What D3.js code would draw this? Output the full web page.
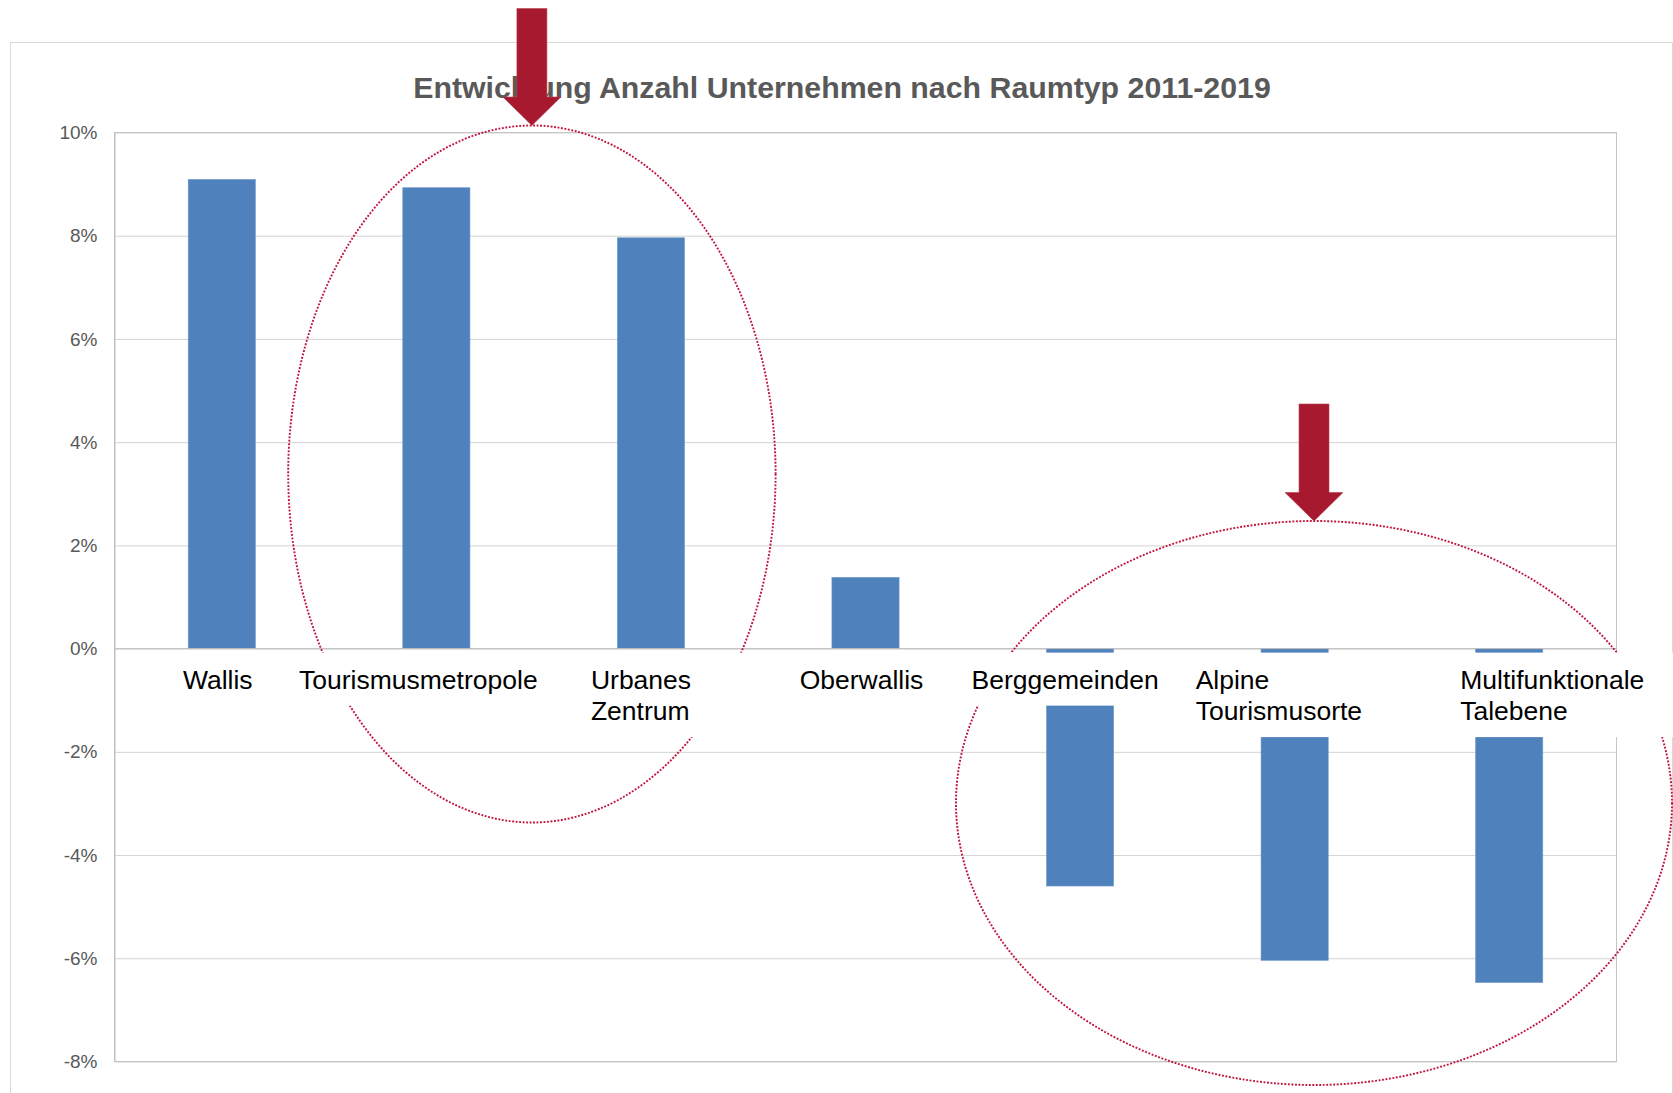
<!DOCTYPE html>
<html>
<head>
<meta charset="utf-8">
<title>Entwicklung Anzahl Unternehmen</title>
<script src="https://d3js.org/d3.v7.min.js"></script>
<style>
body { margin: 0; background: #fff; }
svg text { font-family: "Liberation Sans", Arial, sans-serif; }
</style>
</head>
<body>
<div id="chart"></div>
<script>

// data
var categories = ["Wallis", "Tourismusmetropole", "Urbanes Zentrum", "Oberwallis",
  "Berggemeinden", "Alpine Tourismusorte", "Multifunktionale Talebene"];
var values = [9.09, 8.93, 7.96, 1.38, -4.6, -6.04, -6.47];
var yTicks = [10, 8, 6, 4, 2, 0, -2, -4, -6, -8];
var labelLines = [["Wallis"], ["Tourismusmetropole"], ["Urbanes", "Zentrum"], ["Oberwallis"],
  ["Berggemeinden"], ["Alpine", "Tourismusorte"], ["Multifunktionale", "Talebene"]];
var title = "Entwicklung Anzahl Unternehmen nach Raumtyp 2011-2019";

// label placement: anchor + shift from band centre
var labelAnchor = ["middle", "middle", "start", "middle", "middle", "start", "start"];
var labelShift = [-4, -18, -60, -4, -15, -99, -49];

var width = 1673, height = 1093;
var plotLeft = 114.5, plotRight = 1616.5, plotTop = 132.5, plotBottom = 1061.5;

var svg = d3.select("#chart").append("svg")
  .attr("width", width).attr("height", height);

// outer chart frame
svg.append("rect").attr("x", 10.5).attr("y", 42.5)
  .attr("width", 1662).attr("height", 1100)
  .attr("fill", "#fff").attr("stroke", "#d9d9d9");

var x = d3.scaleBand().domain(categories).range([plotLeft, plotRight])
  .paddingInner(0.687).paddingOuter(0.3435);
var y = d3.scaleLinear().domain([-8, 10]).range([plotBottom, plotTop]);

// gridlines
svg.append("g").attr("transform", "translate(" + plotLeft + ",0)")
  .call(d3.axisLeft(y).tickValues(yTicks).tickSize(-(plotRight - plotLeft)).tickFormat(""))
  .call(function(g) {
    g.select(".domain").remove();
    g.selectAll("line").attr("stroke", "#d4d4d4");
  });

// plot border
svg.append("rect").attr("x", plotLeft).attr("y", plotTop)
  .attr("width", plotRight - plotLeft).attr("height", plotBottom - plotTop)
  .attr("fill", "none").attr("stroke", "#c4c4c4");

// y axis labels
svg.append("g").attr("transform", "translate(" + plotLeft + ",0)")
  .call(d3.axisLeft(y).tickValues(yTicks).tickSize(0).tickPadding(17)
    .tickFormat(function(d) { return d + "%"; }))
  .call(function(g) {
    g.select(".domain").attr("stroke", "#bfbfbf");
    g.selectAll("text").attr("fill", "#595959").attr("font-size", 19)
      .style("font-family", "'Liberation Sans', Arial, sans-serif");
  });

// bars
svg.selectAll(".bar").data(values).enter().append("rect")
  .attr("class", "bar")
  .attr("x", function(d, i) { return x(categories[i]); })
  .attr("width", x.bandwidth())
  .attr("y", function(d) { return y(Math.max(0, d)); })
  .attr("height", function(d) { return Math.abs(y(d) - y(0)); })
  .attr("fill", "#4f81bd").attr("stroke", "#6f97c8").attr("stroke-width", 0.6);

// zero line
svg.append("line").attr("x1", plotLeft).attr("x2", plotRight)
  .attr("y1", y(0)).attr("y2", y(0)).attr("stroke", "#bfbfbf");

// dotted ellipses
var ellipses = [
  { cx: 531.9, cy: 474, rx: 243.7, ry: 348.5 },
  { cx: 1314, cy: 803, rx: 358, ry: 282 }
];
svg.selectAll(".ring").data(ellipses).enter().append("ellipse")
  .attr("class", "ring")
  .attr("cx", function(d) { return d.cx; }).attr("cy", function(d) { return d.cy; })
  .attr("rx", function(d) { return d.rx; }).attr("ry", function(d) { return d.ry; })
  .attr("fill", "none").attr("stroke", "#c0143c").attr("stroke-width", 1.9)
  .attr("stroke-dasharray", "1.9 1.6");

// category labels, white boxes behind them (all boxes first, then texts)
var lineStep = 31.5;
var boxLayer = svg.append("g");
var labels = svg.append("g").selectAll(".cat").data(categories).enter().append("text")
  .attr("class", "cat")
  .attr("font-size", 26.5).attr("fill", "#000")
  .attr("text-anchor", function(d, i) { return labelAnchor[i]; })
  .attr("x", function(d, i) { return x(d) + x.bandwidth() / 2 + labelShift[i]; })
  .attr("y", y(0) + 40)
  .each(function(d, i) {
    var t = d3.select(this);
    labelLines[i].forEach(function(line, j) {
      t.append("tspan").attr("x", t.attr("x")).attr("dy", j == 0 ? 0 : lineStep).text(line);
    });
  });
labels.each(function(d, i) {
  var bb = this.getBBox();
  var pad = 55;
  var boxBottom = y(0) + 40 + (labelLines[i].length - 1) * lineStep + 17;
  boxLayer.append("rect").attr("fill", "#fff")
    .attr("x", bb.x - pad).attr("width", bb.width + 2 * pad)
    .attr("y", y(0) + 4).attr("height", boxBottom - y(0) - 4);
});

// title
svg.append("text").attr("x", 842).attr("y", 98)
  .attr("text-anchor", "middle").attr("font-size", 30.3).attr("font-weight", "bold")
  .attr("fill", "#595959").text(title);

// arrows pointing at the ellipse tops
var shaftLen = 117, headLen = 28.5, headHalf = 29, shaftHalf = 15;
svg.selectAll(".arrow").data(ellipses).enter().append("path")
  .attr("class", "arrow")
  .attr("d", function(d) {
    var tx = d.cx, ty = d.cy - d.ry;
    return "M" + (tx - shaftHalf) + "," + (ty - shaftLen) +
      "L" + (tx + shaftHalf) + "," + (ty - shaftLen) +
      "L" + (tx + shaftHalf) + "," + (ty - headLen) +
      "L" + (tx + headHalf) + "," + (ty - headLen) +
      "L" + tx + "," + ty +
      "L" + (tx - headHalf) + "," + (ty - headLen) +
      "L" + (tx - shaftHalf) + "," + (ty - headLen) + "Z";
  })
  .attr("fill", "#a6192e").attr("stroke", "#b8404f").attr("stroke-width", 0.6);

</script>
</body>
</html>
